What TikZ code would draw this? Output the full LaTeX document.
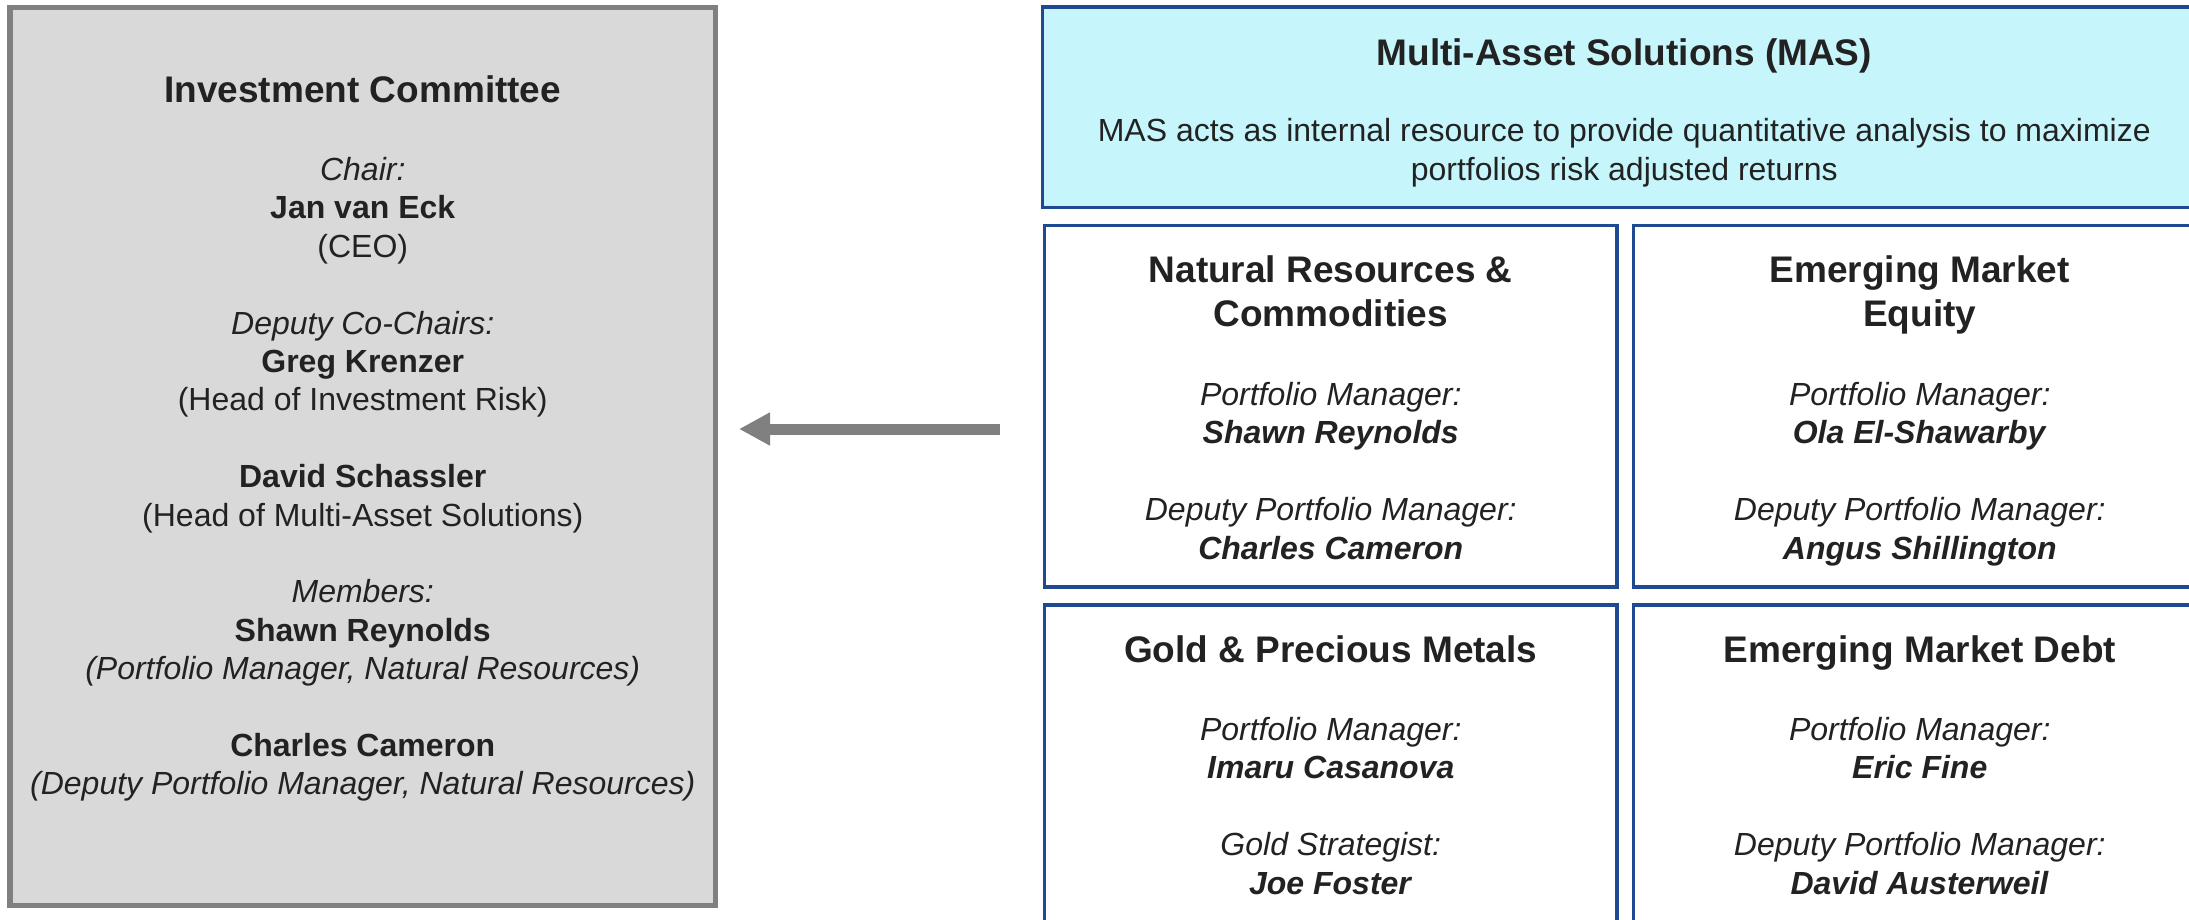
\documentclass[tikz,border=0pt]{standalone}
\usepackage{fontspec}
\setmainfont{Liberation Sans}
\usetikzlibrary{arrows.meta}
\definecolor{txt}{HTML}{222222}
\definecolor{icfill}{HTML}{D9D9D9}
\definecolor{icdraw}{HTML}{808080}
\definecolor{masfill}{HTML}{C6F6FB}
\definecolor{boxblue}{RGB}{31,74,145}
\newcommand\headfont{\fontsize{18.5pt}{22pt}\selectfont\bfseries}
\newcommand\bodyfont{\fontsize{16pt}{19.2pt}\selectfont}
\newcommand\bi[1]{\textbf{\textit{#1}}}
\tikzset{
  icbox/.style={rectangle, draw=icdraw, fill=icfill, line width=2.75pt, inner sep=0pt, outer sep=0pt, anchor=north west},
  masbox/.style={rectangle, draw=boxblue, fill=masfill, line width=1.8pt, inner sep=0pt, outer sep=0pt, anchor=north west},
  unitbox/.style={rectangle, draw=boxblue, fill=white, line width=1.8pt, inner sep=0pt, outer sep=0pt, anchor=north west, minimum width=286.25pt, minimum height=180.75pt},
  headtxt/.style={font=\headfont, text=txt, align=center, inner sep=0pt},
  bodytxt/.style={font=\bodyfont, text=txt, align=center, inner sep=0pt},
  bigarrow/.style={draw=icdraw, line width=5.5pt, -{Triangle[length=15.5pt,width=15.5pt,fill=icdraw]}}
}
\begin{document}
\begin{tikzpicture}[x=0.5pt,y=-0.5pt]
\useasboundingbox (0,0) rectangle (2189,920);
\clip (0,0) rectangle (2189,920);
% Investment Committee
\node[icbox, minimum width=352.75pt, minimum height=449pt] (ic) at (10,7.5) {};
\node[headtxt, anchor=base] (ictitle) at (362.75,102.5) {Investment Committee};
\node[bodytxt, anchor=north] (icbody) at (362.75,157) {%
\textit{Chair:}\\ \textbf{Jan van Eck}\\ (CEO)\\[19.2pt]
\textit{Deputy Co-Chairs:}\\ \textbf{Greg Krenzer}\\ (Head of Investment Risk)\\[19.2pt]
\textbf{David Schassler}\\ (Head of Multi-Asset Solutions)\\[19.2pt]
\textit{Members:}\\ \textbf{Shawn Reynolds}\\ \textit{(Portfolio Manager, Natural Resources)}\\[19.2pt]
\textbf{Charles Cameron}\\ \textit{(Deputy Portfolio Manager, Natural Resources)}};
% MAS
\node[masbox, minimum width=581.75pt, minimum height=100.25pt] (mas) at (1042.5,7) {};
\node[headtxt, anchor=base] (mastitle) at (1624.25,65.25) {Multi-Asset Solutions (MAS)};
\node[bodytxt, anchor=north] (masbody) at (1624.25,118.2) {MAS acts as internal resource to provide quantitative analysis to maximize\\ portfolios risk adjusted returns};
% unit boxes
\node[unitbox] (nr) at (1044.5,225.5) {};
\node[unitbox] (eme) at (1633.5,225.5) {};
\node[unitbox] (gold) at (1044.5,605) {};
\node[unitbox] (emd) at (1633.5,605) {};
% Natural resources
\node[headtxt, anchor=north] (nrhead) at (nr.north |- 0,255) {Natural Resources \&\\ Commodities};
\node[bodytxt, anchor=north] (nrbody) at (nr.north |- 0,382) {\textit{Portfolio Manager:}\\ \bi{Shawn Reynolds}\\[19.2pt] \textit{Deputy Portfolio Manager:}\\ \bi{Charles Cameron}};
% EM equity
\node[headtxt, anchor=north] (emehead) at (eme.north |- 0,255) {Emerging Market\\ Equity};
\node[bodytxt, anchor=north] (emebody) at (eme.north |- 0,382) {\textit{Portfolio Manager:}\\ \bi{Ola El-Shawarby}\\[19.2pt] \textit{Deputy Portfolio Manager:}\\ \bi{Angus Shillington}};
% Gold
\node[headtxt, anchor=base] (goldhead) at (gold.north |- 0,662.25) {Gold \& Precious Metals};
\node[bodytxt, anchor=north] (goldbody) at (gold.north |- 0,717) {\textit{Portfolio Manager:}\\ \bi{Imaru Casanova}\\[19.2pt] \textit{Gold Strategist:}\\ \bi{Joe Foster}};
% EM debt
\node[headtxt, anchor=base] (emdhead) at (emd.north |- 0,662.25) {Emerging Market Debt};
\node[bodytxt, anchor=north] (emdbody) at (emd.north |- 0,717) {\textit{Portfolio Manager:}\\ \bi{Eric Fine}\\[19.2pt] \textit{Deputy Portfolio Manager:}\\ \bi{David Austerweil}};
% arrow
\coordinate (astart) at (1000,429);
\coordinate (aend) at (739,429);
\draw[bigarrow] (astart) -- (aend);
\end{tikzpicture}
\end{document}
